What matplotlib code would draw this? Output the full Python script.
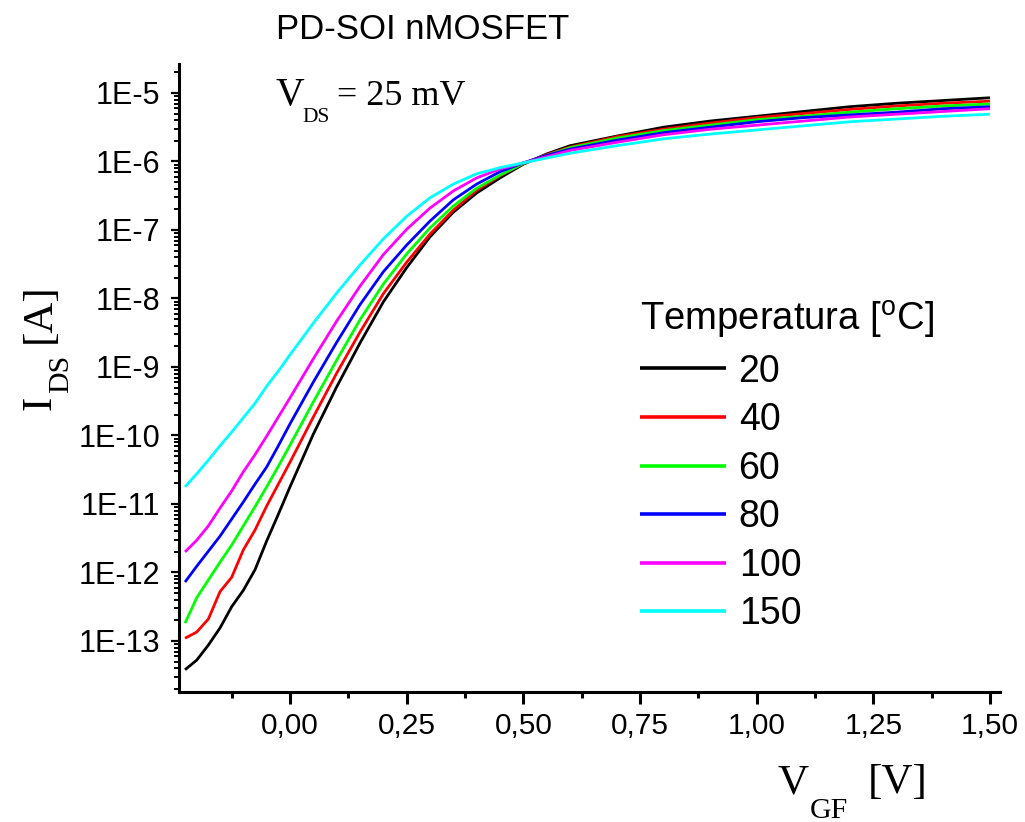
import numpy as np
import matplotlib
matplotlib.use("Agg")
import matplotlib.pyplot as plt
from matplotlib.ticker import FixedLocator, FuncFormatter, LogLocator, NullFormatter, MultipleLocator

# ---------------- data ----------------
vgf = [-0.225, -0.2, -0.175, -0.15, -0.125, -0.1, -0.075, -0.05, -0.025, 0.0,
       0.05, 0.1, 0.15, 0.2, 0.25, 0.3, 0.35, 0.4, 0.45, 0.5,
       0.55,
       0.6, 0.7, 0.8, 0.9, 1.0, 1.1, 1.2, 1.3, 1.4, 1.5]

temperatures = ["20", "40", "60", "80", "100", "150"]
colors = ["#000000", "#ff0000", "#00ff00", "#0000ff", "#ff00ff", "#00ffff"]

# log10(I_DS [A]) for each temperature
log_ids_20 = [-13.42, -13.28, -13.06, -12.81, -12.50, -12.26, -11.96, -11.54, -11.15, -10.75,
              -9.98, -9.29, -8.65, -8.05, -7.55, -7.10, -6.74, -6.46, -6.24, -6.04,
              -5.89,
              -5.77, -5.63, -5.50, -5.41, -5.34, -5.27, -5.20, -5.15, -5.11, -5.07]
log_ids_40 = [-12.96, -12.87, -12.68, -12.28, -12.07, -11.67, -11.38, -11.03, -10.71, -10.39,
              -9.73, -9.09, -8.49, -7.93, -7.47, -7.06, -6.71, -6.42, -6.21, -6.03,
              -5.90,
              -5.79, -5.64, -5.53, -5.44, -5.36, -5.30, -5.24, -5.19, -5.15, -5.12]
log_ids_60 = [-12.74, -12.37, -12.11, -11.85, -11.60, -11.32, -11.04, -10.75, -10.45, -10.14,
              -9.51, -8.90, -8.31, -7.79, -7.35, -6.97, -6.65, -6.39, -6.20, -6.03,
              -5.91,
              -5.80, -5.66, -5.55, -5.47, -5.39, -5.34, -5.28, -5.23, -5.19, -5.16]
log_ids_80 = [-12.14, -11.91, -11.69, -11.47, -11.22, -10.97, -10.71, -10.46, -10.15, -9.83,
              -9.22, -8.64, -8.09, -7.61, -7.22, -6.87, -6.56, -6.33, -6.15, -6.02,
              -5.91,
              -5.82, -5.69, -5.58, -5.50, -5.42, -5.36, -5.32, -5.28, -5.23, -5.20]
log_ids_100 = [-11.70, -11.53, -11.32, -11.06, -10.81, -10.53, -10.28, -10.01, -9.73, -9.45,
               -8.88, -8.33, -7.82, -7.36, -6.99, -6.68, -6.43, -6.24, -6.11, -6.02,
               -5.93,
               -5.84, -5.72, -5.61, -5.53, -5.47, -5.41, -5.35, -5.31, -5.27, -5.23]
log_ids_150 = [-10.75, -10.56, -10.36, -10.15, -9.95, -9.74, -9.53, -9.28, -9.06, -8.82,
               -8.36, -7.92, -7.51, -7.13, -6.80, -6.53, -6.33, -6.18, -6.09, -6.02,
               -5.95,
               -5.88, -5.77, -5.67, -5.60, -5.54, -5.48, -5.42, -5.38, -5.34, -5.31]

series = [log_ids_20, log_ids_40, log_ids_60, log_ids_80, log_ids_100, log_ids_150]

x_ticks = [0.0, 0.25, 0.5, 0.75, 1.0, 1.25, 1.5]
y_ticks = [1e-13, 1e-12, 1e-11, 1e-10, 1e-9, 1e-8, 1e-7, 1e-6, 1e-5]
y_ticklabels = ["1E-13", "1E-12", "1E-11", "1E-10", "1E-9", "1E-8", "1E-7", "1E-6", "1E-5"]

# ---------------- figure ----------------
W, H = 1025, 822
fig = plt.figure(figsize=(W / 100, H / 100), dpi=100)
sans = ["Liberation Sans", "DejaVu Sans"]
serif = ["Liberation Serif", "DejaVu Serif"]
plt.rcParams["font.family"] = sans
plt.rcParams["mathtext.fontset"] = "custom"
plt.rcParams["mathtext.rm"] = "Liberation Sans"

L, R, B, T = 179, 1000, 692, 64
ax = fig.add_axes([L / W, 1 - B / H, (R - L) / W, (B - T) / H])

for lg, c, lab in zip(series, colors, temperatures):
    ax.plot(vgf, 10.0 ** np.array(lg), color=c, lw=2.0, label=lab,
            solid_capstyle="butt", solid_joinstyle="round")

ax.set_yscale("log")
ax.set_xlim(-0.2379, 1.5214)
ax.set_ylim(10 ** -13.745, 10 ** -4.577)

for s in ["top", "right"]:
    ax.spines[s].set_visible(False)
for s in ["left", "bottom"]:
    ax.spines[s].set_linewidth(2.2)

ax.xaxis.set_major_locator(FixedLocator(x_ticks))
ax.xaxis.set_minor_locator(MultipleLocator(0.125))
ax.xaxis.set_major_formatter(FuncFormatter(lambda v, p: f"{v:.2f}".replace(".", ",")))
ax.yaxis.set_major_locator(FixedLocator(y_ticks))
ax.yaxis.set_major_formatter(FuncFormatter(lambda v, p: y_ticklabels[y_ticks.index(v)] if v in y_ticks else ""))
ax.yaxis.set_minor_locator(LogLocator(base=10, subs=np.arange(2, 10), numticks=50))
ax.yaxis.set_minor_formatter(NullFormatter())

ax.tick_params(axis="x", which="major", direction="out", length=8.5, width=2.2, labelsize=21.5, pad=6)
ax.tick_params(axis="x", which="minor", direction="out", length=4, width=2.2)
ax.tick_params(axis="y", which="major", direction="out", length=5.5, width=1.6, labelsize=22, pad=8)
ax.tick_params(axis="y", which="minor", direction="out", length=3.5, width=1.4)

# ---------------- texts ----------------
def ftext(px, py, s, size, family, **kw):
    fig.text(px / W, 1 - py / H, s, fontsize=size, family=family, **kw)

ftext(276, 39, "PD-SOI nMOSFET", 25, sans, ha="left", va="baseline")

ftext(275, 105, "V", 28.5, serif, ha="left", va="baseline")
ftext(302, 122, "DS", 15.5, serif, ha="left", va="baseline")
ftext(337, 105, "= 25 mV", 26, serif, ha="left", va="baseline")

# x label
ftext(777, 793, "V", 31, serif, ha="left", va="baseline")
ftext(810, 818, "GF", 21.5, serif, ha="left", va="baseline")
ftext(868, 793, "[V]", 31, serif, ha="left", va="baseline")

# y label (rotated)
ftext(50, 410, "I", 31, serif, ha="left", va="baseline", rotation=90, rotation_mode="anchor")
ftext(68, 393, "DS", 21.5, serif, ha="left", va="baseline", rotation=90, rotation_mode="anchor")
ftext(50, 343, "[A]", 31, serif, ha="left", va="baseline", rotation=90, rotation_mode="anchor")

# ---------------- legend ----------------
leg = ax.legend(title="Temperatura [$^{\\mathrm{o}}$C]", loc="upper left",
                bbox_to_anchor=(640 / W, 1 - 299 / H), bbox_transform=fig.transFigure,
                frameon=False, fontsize=27, title_fontsize=27.5, handlelength=2.3,
                handletextpad=0.33, labelspacing=0.335, borderpad=0, borderaxespad=0,
                alignment="left")
for line in leg.get_lines():
    line.set_linewidth(2.6)

fig.savefig("out.png", dpi=100)
